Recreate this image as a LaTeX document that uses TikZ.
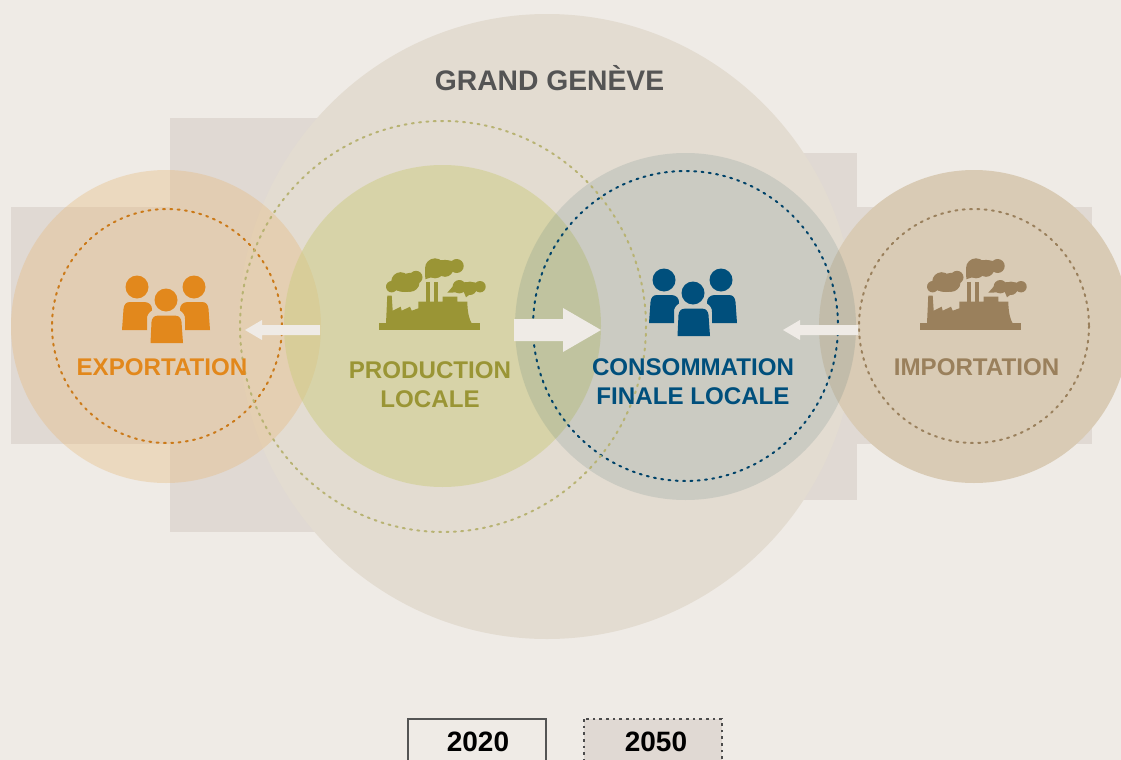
\documentclass[tikz,border=0pt]{standalone}
\usepackage{fontspec}
\setmainfont{Liberation Sans}
\definecolor{paper}{RGB}{239,235,230}
\definecolor{sector}{RGB}{224,217,211}
\definecolor{grandfill}{RGB}{227,220,209}
\definecolor{exportfill}{RGB}{230,184,121}
\definecolor{prodfill}{RGB}{205,204,129}
\definecolor{importfill}{RGB}{217,203,181}
\definecolor{consofill}{RGB}{67,107,109}
\definecolor{exportcol}{RGB}{226,136,28}
\definecolor{prodcol}{RGB}{154,149,53}
\definecolor{consocol}{RGB}{0,79,124}
\definecolor{importcol}{RGB}{154,128,92}
\tikzset{
    dotline/.style={line width=1.5pt, line cap=round, dash pattern=on 1.5pt off 4pt},
    lbl/.style={font=\bfseries\fontsize{18.1pt}{21.5pt}\selectfont, align=center, inner sep=0pt},
    yearlbl/.style={font=\bfseries\fontsize{21pt}{24pt}\selectfont, inner sep=0pt},
    people/.pic={
        \fill (-29,-33) circle (11.5);
        \fill (28,-33) circle (11.5);
        \fill (0,-20) circle (11.5);
        \fill (-44,10) -- (-42.5,-11) .. controls (-42,-15.5) and (-40,-18) .. (-36,-18) -- (-22,-18)
            .. controls (-17,-18) and (-13.5,-15) .. (-14,-9.5) .. controls (-17,-8) and (-19.5,-4) .. (-19,-1) -- (-19,10) -- cycle;
        \fill (44,10) -- (42.5,-11) .. controls (42,-15.5) and (40,-18) .. (36,-18) -- (22,-18)
            .. controls (17,-18) and (13.5,-15) .. (14,-9.5) .. controls (17,-8) and (19.5,-4) .. (19,-1) -- (19,10) -- cycle;
        \fill (-15.5,23) -- (-14.5,2) .. controls (-14,-2) and (-12,-4.3) .. (-8.5,-4.3) -- (9.5,-4.3)
            .. controls (13,-4.3) and (15,-2) .. (15.5,2) -- (17,23) -- cycle;
    },
    factory/.pic={
        \fill (0,-7) rectangle (101,0);
        \fill (7,-6.7) -- (8.3,-34.3) -- (12.7,-34.3) -- (13.7,-19.3) -- (21.7,-23.3) -- (22.7,-19.3)
            -- (31,-23.3) -- (32.7,-19.3) -- (39.3,-21.7) -- (39.3,-28.3) -- (63.7,-28.3) -- (63.7,-33.3)
            -- (78.3,-33.3) -- (78.3,-28.3) -- (88.3,-28.3) .. controls (88.5,-18) and (90,-11) .. (92.7,-6.7) -- cycle;
        \fill (47,-48.3) rectangle (51,-28.3);
        \fill (55,-48.3) rectangle (59,-28.3);
        % smoke
        \fill (12.7,-43.3) circle (5.7);
        \fill (21.7,-48.3) circle (9.5);
        \fill (31,-47.7) circle (9.5);
        \fill (37,-52.7) circle (6.5);
        \fill (26,-46) ellipse (14 and 8);
        \fill (56,-61.7) circle (10);
        \fill (66,-61.7) circle (8.5);
        \fill (77.7,-64) circle (7);
        \fill (64,-64) ellipse (16 and 6);
        \fill (46,-62) -- (46.3,-50.7) -- (56,-54) -- cycle;
        \fill (80.3,-43.3) circle (6.7);
        \fill (91,-41.7) circle (6.7);
        \fill (101,-43.3) circle (5.7);
        \fill (90,-43) ellipse (14 and 5);
        \fill (68.3,-37.3) -- (76,-46) -- (88,-38) -- cycle;
        \fill (87,-32.7) -- (84,-40) -- (94,-38) -- cycle;
    }
}

\begin{document}
\begin{tikzpicture}[x=0.75pt, y=-0.75pt]
    \clip (0,0) rectangle (1121,760);
    \fill[paper] (0,0) rectangle (1121,760);

    % sectors 2050 behind the circles
    \fill[sector] (11,207) rectangle (400,444);
    \fill[sector] (170,118) rectangle (400,532);
    \fill[sector] (700,153) rectangle (857,500);
    \fill[sector] (700,207) rectangle (1092,444);

    \fill[grandfill] (547,326.5) ellipse (308.5 and 312.5);
    \fill[exportfill, opacity=.35] (166,326.5) ellipse (155 and 156.5);
    \fill[prodfill, opacity=.5] (442.5,326) ellipse (158.5 and 161);
    \fill[importfill] (974,326.5) ellipse (155 and 156.5);
    \fill[consofill, opacity=.15] (685.5,326.5) ellipse (170.5 and 173.5);

    \draw[dotline, draw=exportcol!90!black] (167,326) ellipse (115 and 117);
    \draw[dotline, draw=importcol] (974,326) ellipse (115 and 117);
    \draw[dotline, draw=consocol!85!black] (685.5,326) ellipse (152.5 and 155);
    \draw[dotline, draw=prodcol!65!paper] (443,326.5) ellipse (203 and 205.5);

    % flows
    \fill[paper] (320,325) -- (262,325) -- (262,320) -- (245,330) -- (262,340) -- (262,335) -- (320,335) -- cycle;
    \fill[paper] (514,319) -- (563,319) -- (563,308) -- (601,330) -- (563,352) -- (563,341) -- (514,341) -- cycle;
    \fill[paper] (858,325) -- (800,325) -- (800,320) -- (783,330) -- (800,340) -- (800,335) -- (858,335) -- cycle;

    \pic[exportcol] at (166,320) {people};
    \pic[consocol] at (693,313) {people};
    \pic[prodcol] at (379,330) {factory};
    \pic[importcol] at (920,330) {factory};

    \node[lbl, text=black!67, font=\bfseries\fontsize{21.2pt}{24pt}\selectfont] (grand) at (549.5,78.5) {GRAND GENÈVE};
    \node[lbl, text=exportcol] (export) at (162,367) {EXPORTATION};
    \node[lbl, text=prodcol] (prod) at (430,384.5) {PRODUCTION\\LOCALE};
    \node[lbl, text=consocol] (conso) at (693,382) {CONSOMMATION\\FINALE LOCALE};
    \node[lbl, text=importcol] (import) at (976.5,367) {IMPORTATION};

    % legend, cut by the lower edge
    \draw[line width=1.5pt, draw=black!67] (408,719) rectangle (546,780);
    \draw[fill=sector, draw=black!70, line width=1.3pt, dash pattern=on 2pt off 3pt] (584,719) rectangle (722,780);
    \node[yearlbl] (y2020) at (478,742) {2020};
    \node[yearlbl] (y2050) at (656,742) {2050};
\end{tikzpicture}
\end{document}
